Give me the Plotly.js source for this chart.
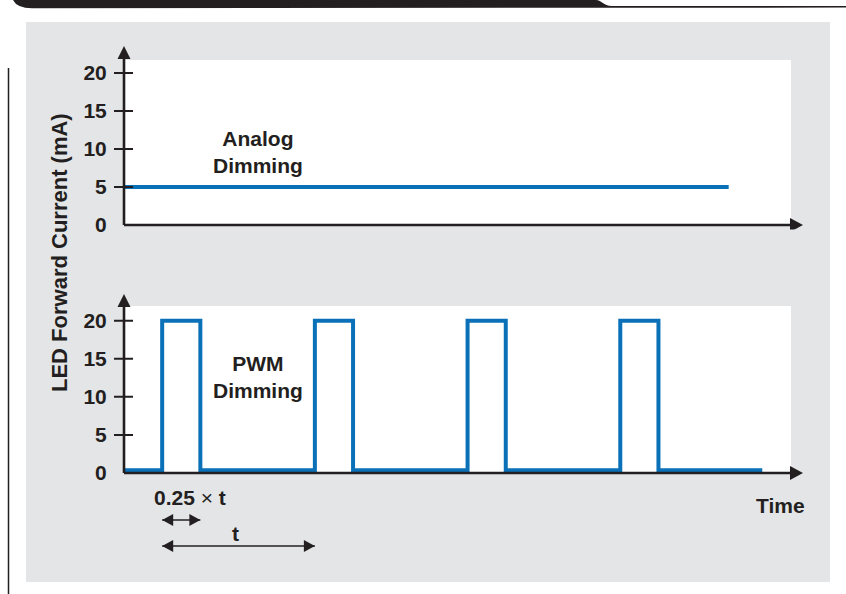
<!DOCTYPE html>
<html>
<head>
<meta charset="utf-8">
<script src="https://cdn.plot.ly/plotly-3.0.1.min.js"></script>
<style>html,body{margin:0;padding:0;background:#fff;}#chart{width:846px;height:594px;}</style>
</head>
<body>
<div id="chart"></div>
<script>
// ---- data ----
const analogTime = [0, 3.96];
const analogCurrent = [5, 5];
const pwmTime = [0, 0.25, 0.25, 0.5, 0.5, 1.25, 1.25, 1.5, 1.5, 2.25, 2.25, 2.5, 2.5, 3.25, 3.25, 3.5, 3.5, 4.18];
const pwmCurrent = [0.35, 0.35, 20, 20, 0.35, 0.35, 20, 20, 0.35, 0.35, 20, 20, 0.35, 0.35, 20, 20, 0.35, 0.35];
const tickVals = [0, 5, 10, 15, 20];
const tickText = ['0', '5', '10', '15', '20'];
const tickMarks = [5, 10, 15, 20];
const yTitle = 'LED Forward Current (mA)';
const analogLabel = 'Analog<br>Dimming';
const pwmLabel = 'PWM<br>Dimming';
const dutyLabel = '<b>0.25</b> × <b>t</b>';
const periodLabel = '<b>t</b>';
const timeLabel = '<b>Time</b>';

// ---- geometry ----
const W = 846, H = 594;
const INK = '#231f20', BLUE = '#0a71b9', GREY = '#e4e5e7';
const FONT = '"Liberation Sans", Arial, sans-serif';
const x0px = 124, ppx = 152.7;
const xr = [-0.08, 4.5];
const xdom = [(x0px + xr[0] * ppx) / W, (x0px + xr[1] * ppx) / W];
const zTop = 225, ppyTop = 7.6, yrTop = [-0.6, 23.9];
const zBot = 473, ppyBot = 7.615, yrBot = [-14, 23.8];
const ydTop = [1 - (zTop - yrTop[0] * ppyTop) / H, 1 - (zTop - yrTop[1] * ppyTop) / H];
const ydBot = [1 - (zBot - yrBot[0] * ppyBot) / H, 1 - (zBot - yrBot[1] * ppyBot) / H];
const fx = p => p / W, fy = p => 1 - p / H;

const axisEnd = 4.368;
const whiteTop = 21.7, whiteBot = 21.93;
const yArrowTop = 21.97, yArrowBot = 21.93;

const shapes = [];
shapes.push({type: 'rect', xref: 'paper', yref: 'paper', x0: fx(26), x1: fx(830), y0: fy(582), y1: fy(22),
  fillcolor: GREY, line: {width: 0}, layer: 'below'});
const bp = (x, y) => fx(x).toFixed(5) + ',' + fy(y).toFixed(5);
shapes.push({type: 'path', xref: 'paper', yref: 'paper', layer: 'above',
  path: 'M' + bp(13, 0) + ' L' + bp(596, 0) + ' C' + bp(602, 0) + ' ' + bp(603, 6) + ' ' + bp(612, 6) +
        ' L' + bp(846, 6) + ' L' + bp(846, 7.6) + ' L' + bp(32, 8.2) + ' Q' + bp(17, 8.2) + ' ' + bp(13, 0) + ' Z',
  fillcolor: INK, line: {width: 0}});
shapes.push({type: 'line', xref: 'paper', yref: 'paper', x0: fx(8.5), x1: fx(8.5), y0: fy(68), y1: fy(594),
  line: {color: INK, width: 1.5}});

function panel(xa, ya, wTop, arrowBase) {
  shapes.push({type: 'rect', xref: xa, yref: ya, x0: 0, x1: axisEnd, y0: 0, y1: wTop,
    fillcolor: '#ffffff', line: {width: 0}, layer: 'below'});
  shapes.push({type: 'line', xref: xa, yref: ya, x0: 0, x1: axisEnd, y0: 0, y1: 0, line: {color: INK, width: 2.6}});
  shapes.push({type: 'line', xref: xa, yref: ya, x0: 0, x1: 0, y0: 0, y1: arrowBase, line: {color: INK, width: 2.6}});
  shapes.push({type: 'path', xref: xa, yref: ya, xsizemode: 'pixel', ysizemode: 'pixel', xanchor: axisEnd, yanchor: 0,
    path: 'M-1,-7 L12,0 L-1,7 Z', fillcolor: INK, line: {width: 0}});
  shapes.push({type: 'path', xref: xa, yref: ya, xsizemode: 'pixel', ysizemode: 'pixel', xanchor: 0, yanchor: arrowBase,
    path: 'M-6.5,-1 L0,12 L6.5,-1 Z', fillcolor: INK, line: {width: 0}});
  tickMarks.forEach(v => shapes.push({type: 'line', xref: xa, yref: ya, xsizemode: 'pixel', xanchor: 0,
    x0: -10, x1: 9, y0: v, y1: v, line: {color: INK, width: 2}}));
}
panel('x', 'y', whiteTop, yArrowTop);
panel('x2', 'y2', whiteBot, yArrowBot);

function dblArrow(xa, ya, a, b, y) {
  shapes.push({type: 'line', xref: xa, yref: ya, x0: a, x1: b, y0: y, y1: y, line: {color: INK, width: 1.6}});
  shapes.push({type: 'path', xref: xa, yref: ya, xsizemode: 'pixel', ysizemode: 'pixel', xanchor: a, yanchor: y,
    path: 'M0,0 L11,6 L11,-6 Z', fillcolor: INK, line: {width: 0}});
  shapes.push({type: 'path', xref: xa, yref: ya, xsizemode: 'pixel', ysizemode: 'pixel', xanchor: b, yanchor: y,
    path: 'M0,0 L-11,6 L-11,-6 Z', fillcolor: INK, line: {width: 0}});
}
dblArrow('x2', 'y2', pwmTime[1], pwmTime[3], -6.17);
dblArrow('x2', 'y2', pwmTime[1], pwmTime[5], -9.59);

const txt = (size, bold) => ({family: FONT, size: size, color: INK, weight: bold ? 'bold' : 'normal'});
const annotations = [
  {xref: 'x', yref: 'y', x: 0.877, y: 9.55, text: analogLabel, showarrow: false, font: txt(21, true), align: 'center'},
  {xref: 'x2', yref: 'y2', x: 0.877, y: 12.6, text: pwmLabel, showarrow: false, font: txt(21, true), align: 'center'},
  {xref: 'x2', yref: 'y2', x: 0.43, y: -3.2, text: dutyLabel, showarrow: false, font: txt(21, false)},
  {xref: 'x2', yref: 'y2', x: 0.733, y: -7.95, text: periodLabel, showarrow: false, font: txt(21, false)},
  {xref: 'x2', yref: 'y2', x: 4.30, y: -4.3, text: timeLabel, showarrow: false, font: txt(21, false)},
  {xref: 'paper', yref: 'paper', x: fx(59), y: fy(253), xanchor: 'center', yanchor: 'middle',
   text: yTitle, textangle: -90, showarrow: false, font: txt(22, true)}
];

const boldTicks = tickText.map(t => '<b>' + t + '</b>');
const xAxisBase = {range: xr, domain: xdom, showgrid: false, zeroline: false, showline: false,
  showticklabels: false, ticks: '', fixedrange: true};
const yAxisBase = {showgrid: false, zeroline: false, showline: false, ticks: '',
  tickmode: 'array', tickvals: tickVals, ticktext: boldTicks, ticklabelstandoff: 4,
  tickfont: txt(21, true), fixedrange: true};

const traces = [
  {type: 'scatter', mode: 'lines', x: analogTime, y: analogCurrent, xaxis: 'x', yaxis: 'y',
   line: {color: BLUE, width: 4}, hoverinfo: 'skip'},
  {type: 'scatter', mode: 'lines', x: pwmTime, y: pwmCurrent, xaxis: 'x2', yaxis: 'y2',
   line: {color: BLUE, width: 4}, hoverinfo: 'skip'}
];

const layout = {
  width: W, height: H, margin: {l: 0, r: 0, t: 0, b: 0},
  paper_bgcolor: '#ffffff', plot_bgcolor: 'rgba(0,0,0,0)', showlegend: false,
  xaxis: Object.assign({}, xAxisBase, {anchor: 'y'}),
  yaxis: Object.assign({}, yAxisBase, {range: yrTop, domain: ydTop, anchor: 'x'}),
  xaxis2: Object.assign({}, xAxisBase, {anchor: 'y2'}),
  yaxis2: Object.assign({}, yAxisBase, {range: yrBot, domain: ydBot, anchor: 'x2'}),
  shapes: shapes, annotations: annotations
};

Plotly.newPlot('chart', traces, layout, {staticPlot: true, displayModeBar: false});
</script>
</body>
</html>
